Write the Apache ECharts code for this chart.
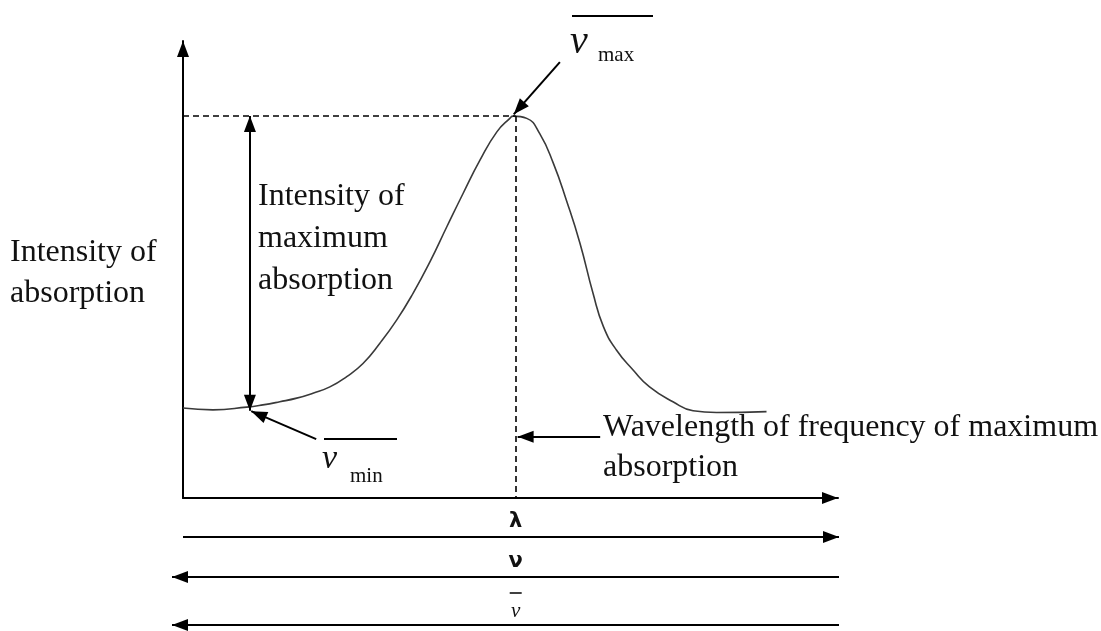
<!DOCTYPE html>
<html>
<head>
<meta charset="utf-8">
<script src="https://cdn.jsdelivr.net/npm/echarts@6/dist/echarts.min.js"></script>
<style>
  html, body { margin: 0; padding: 0; background: #fff; }
  #chart { width: 1101px; height: 631px; }
</style>
</head>
<body>
<div id="chart"></div>
<script>
// absorption curve (x: 0..100 along the axis, y: 0..100 up the axis)
const curveX = [0, 4.6, 9.8, 12.3, 14.9, 17.5, 20.0, 22.6, 25.2, 27.7, 30.3, 32.9, 35.4, 38.0, 40.6, 43.1, 45.7, 48.3, 50.3, 50.8,
                52.9, 54.9, 57.0, 59.0, 61.1, 63.1, 64.7, 66.7, 69.3, 71.8, 75.4, 78.5, 82.1, 89.8]
const curveY = [20.0, 19.6, 20.2, 20.7, 21.4, 22.2, 23.3, 24.7, 27.0, 29.9, 34.4, 39.6, 45.5, 52.5, 60.3, 67.7, 75.1, 81.4, 84.4, 84.9,
                84.4, 81.0, 74.4, 66.2, 56.6, 45.5, 38.1, 32.9, 28.4, 24.7, 21.4, 19.4, 19.0, 19.2]

// peak and annotation points
const peak = [51.2, 84.9]
const heightArrowX = 10.3
const baseY = 19.4
const maxArrow = [[58.0, 96.9], [50.9, 85.3]]
const minArrow = [[20.5, 13.1], [10.5, 19.3]]
const waveArrow = [[64.2, 13.6], [51.5, 13.6]]

const serif = '"Liberation Serif", "Times New Roman", serif'
const sans = '"DejaVu Sans", sans-serif'

let curveData = curveX.map((x, i) => [x, curveY[i]])

let chart = echarts.init(document.getElementById('chart'))

// small helper: horizontal arrow (line + filled head) for the bottom scales
function hArrow(x1, x2, y, headAt) {
    let tip = headAt === 'right' ? x2 : x1
    let dir = headAt === 'right' ? -1 : 1
    return [
        { type: 'line', shape: { x1: x1, y1: y, x2: x2, y2: y }, style: { stroke: '#000', lineWidth: 2 } },
        { type: 'polygon', shape: { points: [[tip, y], [tip + dir * 16, y - 6], [tip + dir * 16, y + 6]] }, style: { fill: '#000' } }
    ]
}

let arrowStyle = { color: '#000', width: 2, type: 'solid' }
let dashStyle = { color: '#000', width: 1.6, type: [6, 4] }
let head = [12, 16]

let option = {
    animation: false,
    grid: { left: 183, right: 263, top: 41, bottom: 133 },
    xAxis: {
        type: 'value', min: 0, max: 100.8,
        axisLine: { show: true, onZero: false, symbol: ['none', 'triangle'], symbolSize: head, symbolOffset: [0, -8], lineStyle: { color: '#000', width: 2 } },
        axisTick: { show: false }, axisLabel: { show: false }, splitLine: { show: false }
    },
    yAxis: {
        type: 'value', min: 0, max: 101.6,
        axisLine: { show: true, onZero: false, symbol: ['none', 'triangle'], symbolSize: head, symbolOffset: [0, -8], lineStyle: { color: '#000', width: 2 } },
        axisTick: { show: false }, axisLabel: { show: false }, splitLine: { show: false }
    },
    series: [
        {
            type: 'line',
            data: curveData,
            smooth: 0.5,
            showSymbol: false,
            lineStyle: { color: '#3a3a3a', width: 1.6 },
            markLine: {
                silent: true,
                label: { show: false },
                symbol: ['none', 'none'],
                data: [
                    [{ coord: [0, peak[1]], lineStyle: dashStyle }, { coord: peak }],
                    [{ coord: peak, lineStyle: dashStyle }, { coord: [peak[0], 0] }],
                    [{ coord: [heightArrowX, peak[1]], symbol: 'triangle', symbolSize: head, symbolOffset: [0, 8], lineStyle: arrowStyle },
                     { coord: [heightArrowX, baseY], symbol: 'triangle', symbolSize: head, symbolOffset: [0, 8] }],
                    [{ coord: maxArrow[0], symbol: 'none', lineStyle: arrowStyle },
                     { coord: maxArrow[1], symbol: 'triangle', symbolSize: head, symbolOffset: [0, 8] }],
                    [{ coord: minArrow[0], symbol: 'none', lineStyle: arrowStyle },
                     { coord: minArrow[1], symbol: 'triangle', symbolSize: head, symbolOffset: [0, 8] }],
                    [{ coord: waveArrow[0], symbol: 'none', lineStyle: arrowStyle },
                     { coord: waveArrow[1], symbol: 'triangle', symbolSize: head, symbolOffset: [0, 8] }]
                ]
            }
        }
    ]
}
chart.setOption(option)

// text labels and the three scales under the x axis
let peakPx = chart.convertToPixel({ gridIndex: 0 }, peak)[0]
let leftPx = chart.convertToPixel({ gridIndex: 0 }, [0, 0])[0]
let endPx = 839

let graphics = [
    { type: 'text', style: { x: 10, y: 232, text: 'Intensity of\nabsorption', font: '32px ' + serif, lineHeight: 41, fill: '#111' } },
    { type: 'text', style: { x: 258, y: 176, text: 'Intensity of\nmaximum\nabsorption', font: '32px ' + serif, lineHeight: 42, fill: '#111' } },
    { type: 'text', style: { x: 603, y: 408, text: 'Wavelength of frequency of maximum\nabsorption', font: '32px ' + serif, lineHeight: 40, fill: '#111' } },

    // nu-bar max
    { type: 'line', shape: { x1: 572, y1: 16, x2: 653, y2: 16 }, style: { stroke: '#000', lineWidth: 2 } },
    { type: 'text', style: { x: 570, y: 42, text: 'ν', font: 'italic 40px ' + serif, fill: '#111', verticalAlign: 'middle' } },
    { type: 'text', style: { x: 598, y: 55, text: 'max', font: '21px ' + serif, fill: '#111', verticalAlign: 'middle' } },

    // nu-bar min
    { type: 'line', shape: { x1: 324, y1: 439, x2: 397, y2: 439 }, style: { stroke: '#000', lineWidth: 2 } },
    { type: 'text', style: { x: 322, y: 459, text: 'ν', font: 'italic 34px ' + serif, fill: '#111', verticalAlign: 'middle' } },
    { type: 'text', style: { x: 350, y: 476, text: 'min', font: '21px ' + serif, fill: '#111', verticalAlign: 'middle' } },

    // bottom scales
    { type: 'text', style: { x: peakPx, y: 522, text: 'λ', font: 'bold 21px ' + sans, fill: '#111', align: 'center', verticalAlign: 'middle' } },
    { type: 'text', style: { x: peakPx, y: 562, text: 'ν', font: 'bold 21px ' + sans, fill: '#111', align: 'center', verticalAlign: 'middle' } },
    { type: 'line', shape: { x1: peakPx - 6, y1: 593, x2: peakPx + 6, y2: 593 }, style: { stroke: '#000', lineWidth: 1.5 } },
    { type: 'text', style: { x: peakPx, y: 611, text: 'ν', font: 'italic 21px ' + serif, fill: '#111', align: 'center', verticalAlign: 'middle' } }
]
graphics = graphics
    .concat(hArrow(leftPx, endPx, 537, 'right'))
    .concat(hArrow(172, endPx, 577, 'left'))
    .concat(hArrow(172, endPx, 625, 'left'))

chart.setOption({ graphic: graphics })
</script>
</body>
</html>
